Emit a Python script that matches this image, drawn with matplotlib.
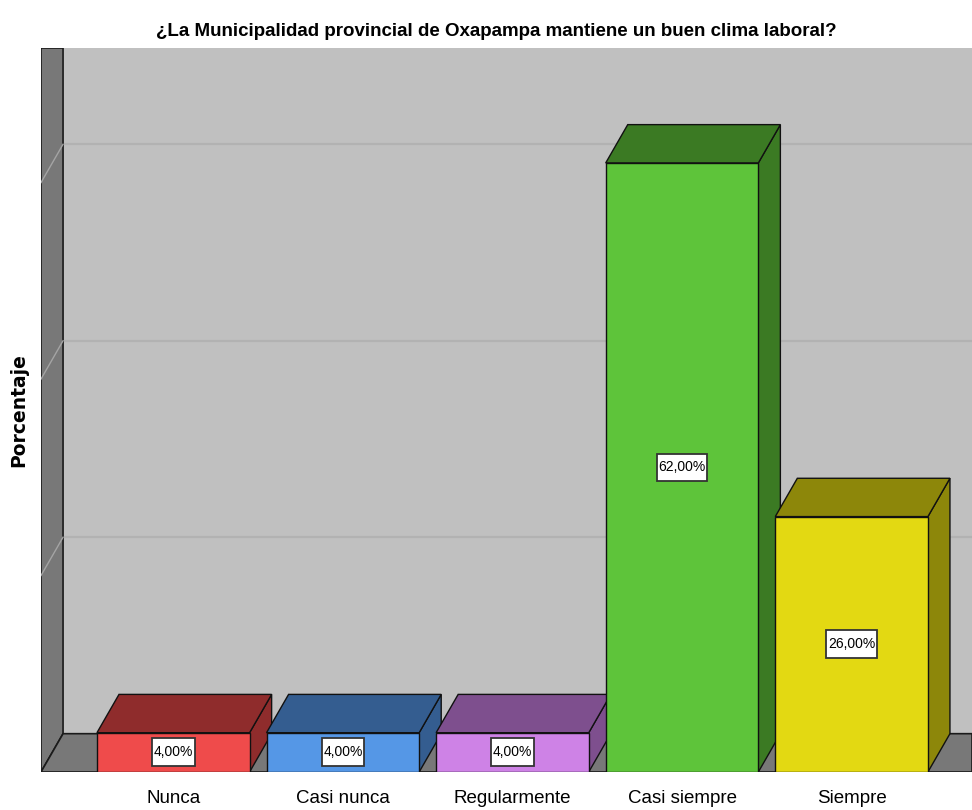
import matplotlib
matplotlib.use('Agg')
import matplotlib.pyplot as plt
from matplotlib.patches import Polygon
from matplotlib.path import Path

# datos del gráfico
categorias = ['Nunca', 'Casi nunca', 'Regularmente', 'Casi siempre', 'Siempre']
porcentajes = [4.0, 4.0, 4.0, 62.0, 26.0]
color_frente = ['#EF4B4B', '#5597E6', '#CE82E6', '#5EC43A', '#E3D912']
color_lado = ['#8F2C2C', '#345D90', '#7E4F8E', '#3B7A23', '#8D870A']
lineas_guia = [20, 40, 60]

titulo = '¿La Municipalidad provincial de Oxapampa mantiene un buen clima laboral?'

# estilo 3D (profundidad en unidades de datos)
DX = 0.13
DY = 3.9
ANCHO = 0.9
X_IZQ, X_DER = -0.78, 4.71
Y_SUP = 73.7

FUENTE = ['Liberation Sans', 'DejaVu Sans']


def caja_etiqueta(x0, y0, width, height, mutation_size):
    """Caja rectangular con más margen vertical que horizontal"""
    px, py = 0.12 * mutation_size, 0.5 * mutation_size
    x0, y0 = x0 - px, y0 - py
    x1, y1 = x0 + width + 2 * px, y0 + height + 2 * py
    return Path([(x0, y0), (x1, y0), (x1, y1), (x0, y1), (x0, y0)], closed=True)


def barra_3d(ax, x, v, c_frente, c_lado, z):
    """Dibuja una barra con cara frontal, superior y lateral"""
    x0, x1 = x - ANCHO / 2, x + ANCHO / 2
    frente = [(x0, 0), (x1, 0), (x1, v), (x0, v)]
    arriba = [(x0, v), (x1, v), (x1 + DX, v + DY), (x0 + DX, v + DY)]
    lado = [(x1, 0), (x1 + DX, DY), (x1 + DX, v + DY), (x1, v)]
    for pts, col in [(lado, c_lado), (arriba, c_lado), (frente, c_frente)]:
        ax.add_patch(Polygon(pts, closed=True, facecolor=col,
                             edgecolor='#111111', linewidth=1.0, zorder=z))


fig = plt.figure(figsize=(9.72, 8.1), dpi=100)
ax = fig.add_axes([41 / 972, 38 / 810, 931 / 972, 724 / 810])
ax.set_facecolor('#C0C0C0')
ax.set_xlim(X_IZQ, X_DER)
ax.set_ylim(0, Y_SUP)
for s in ax.spines.values():
    s.set_visible(False)

# pared izquierda y piso
xb = X_IZQ + DX
pared = [(X_IZQ, 0), (xb, DY), (xb, Y_SUP), (X_IZQ, Y_SUP)]
piso = [(X_IZQ, 0), (xb, DY), (X_DER, DY), (X_DER, 0)]
ax.add_patch(Polygon(pared, closed=True, facecolor='#787878',
                     edgecolor='#1A1A1A', linewidth=1.2, zorder=1))
ax.add_patch(Polygon(piso, closed=True, facecolor='#787878',
                     edgecolor='#1A1A1A', linewidth=1.2, zorder=1))

# líneas de referencia en el fondo y en la pared
for g in lineas_guia:
    ax.plot([xb, X_DER], [g + DY, g + DY], color='#B2B2B2', lw=1.6, zorder=0.5)
    ax.plot([X_IZQ, xb], [g, g + DY], color='#A4A4A4', lw=1.0, zorder=2)

# barras
for i, v in enumerate(porcentajes):
    barra_3d(ax, i, v, color_frente[i], color_lado[i], 3 + i)
    etiqueta = f'{v:.2f}'.replace('.', ',') + '%'
    ax.text(i, v / 2, etiqueta, ha='center', va='center', fontsize=10,
            family=FUENTE, zorder=10,
            bbox=dict(boxstyle=caja_etiqueta, facecolor='white',
                      edgecolor='#333333', linewidth=1.3))

ax.set_xticks(range(len(categorias)))
ax.set_xticklabels(categorias, fontsize=13.5, family=FUENTE)
ax.tick_params(axis='x', length=0, pad=13)
ax.set_yticks([])
ax.set_ylabel('Porcentaje', fontsize=13.5, fontweight='bold', labelpad=9)

fig.text(496 / 972, 1 - 31 / 810, titulo, ha='center', va='center',
         fontsize=13.5, fontweight='bold', family=FUENTE)

fig.savefig('out.png', dpi=100)
